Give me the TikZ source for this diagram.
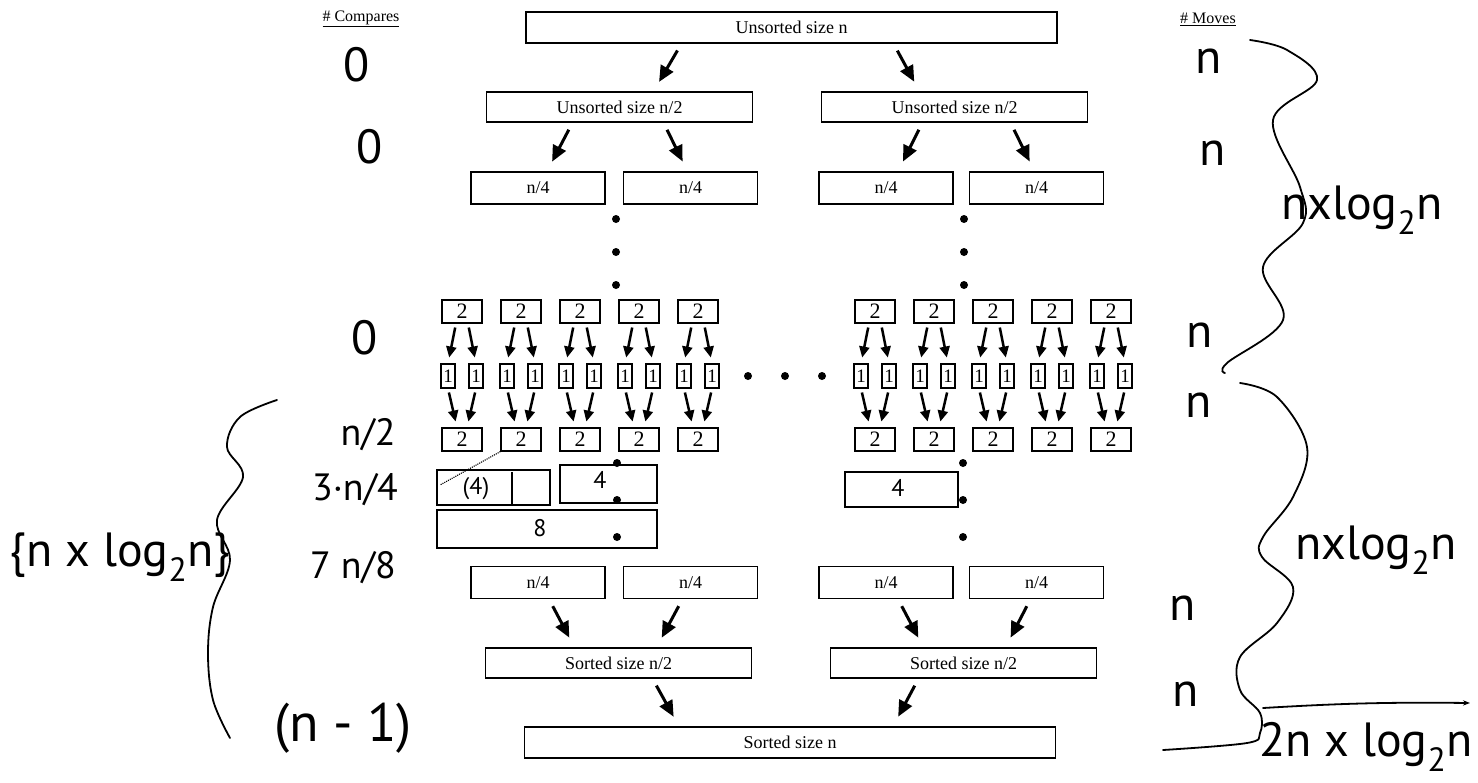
\documentclass[tikz,border=0pt]{standalone}
\usepackage{fontspec}
\setmainfont{Liberation Serif}
\newfontfamily\handfont{PT Sans}
\usetikzlibrary{positioning,calc,arrows.meta}

\begin{document}
\begin{tikzpicture}[x=1pt,y=-1pt]
        \tikzstyle{box}=[draw, line width=1.2pt, inner sep=0pt, font=\fontsize{18}{18}\selectfont]
        \tikzstyle{wbox}=[box, minimum width=531pt, minimum height=31pt]
        \tikzstyle{hfbox}=[box, minimum width=266pt, minimum height=30pt]
        \tikzstyle{qbox}=[box, minimum width=134pt, minimum height=32pt]
        \tikzstyle{twobox}=[box, minimum width=40pt, minimum height=23pt, font=\fontsize{22}{22}\selectfont]
        \tikzstyle{onebox}=[box, minimum width=14pt, minimum height=24pt, font=\fontsize{19}{19}\selectfont]
        \tikzstyle{arr}=[-{Triangle[length=16pt,width=14pt]}, line width=3pt, shorten <=8pt, shorten >=11pt]
        \tikzstyle{sarr}=[-{Triangle[length=11pt,width=10pt]}, line width=2.5pt, shorten <=4pt, shorten >=6pt]
        \tikzstyle{bullet}=[circle, fill, inner sep=0pt, minimum size=8pt]
        \tikzstyle{head}=[font=\fontsize{16}{16}\selectfont]
        \tikzstyle{hand}=[font=\handfont\fontsize{48}{48}\selectfont, inner sep=0pt]
        \tikzstyle{handsm}=[font=\handfont\fontsize{38}{38}\selectfont, inner sep=0pt]
        \tikzstyle{handxs}=[font=\handfont\fontsize{24}{24}\selectfont, inner sep=0pt]
        \tikzstyle{curly}=[line width=1.8pt, line cap=round, line join=round]
        \tikzstyle{sketch}=[line width=1.1pt]

        \useasboundingbox (0,0) rectangle (1478,782);

        % column heads
        \node[head] (cmp) at (361,19) {\underline{\# Compares}};
        \node[head] (mov) at (1208,19) {\underline{\# Moves}};

        % splitting half
        \node[wbox]  (top) at (791.5,27.5) {Unsorted size n};
        \node[hfbox] (ul) at (619.5,107) {Unsorted size n/2};
        \node[hfbox] (ur) at (954.5,107) {Unsorted size n/2};
        \node[qbox]  (q1) at (538,188) {n/4};
        \node[qbox]  (q2) at (690.5,188) {n/4};
        \node[qbox]  (q3) at (886,188) {n/4};
        \node[qbox]  (q4) at (1036.5,188) {n/4};

        \draw[arr] ([xshift=-110pt]top.south) -- ([xshift=34pt]ul.north);
        \draw[arr] ([xshift=102pt]top.south) -- ([xshift=-35pt]ur.north);
        \draw[arr] ([xshift=-47pt]ul.south) -- ([xshift=9pt]q1.north);
        \draw[arr] ([xshift=44pt]ul.south) -- ([xshift=-3pt]q2.north);
        \draw[arr] ([xshift=-32pt]ur.south) -- ([xshift=12pt]q3.north);
        \draw[arr] ([xshift=56pt]ur.south) -- ([xshift=-2pt]q4.north);

        % pairs of size 2 and 1
        \foreach \i/\c in {1/462,2/521,3/580,4/639,5/698,6/875,7/934,8/993,9/1052,10/1111} {
            \node[twobox] (a\i) at (\c,311.5) {2};
            \node[onebox] (l\i) at (\c-14,376) {1};
            \node[onebox] (r\i) at (\c+14,376) {1};
            \node[twobox] (b\i) at (\c,439.5) {2};
            \draw[sarr] ([xshift=-6pt]a\i.south) -- (l\i.north);
            \draw[sarr] ([xshift=6pt]a\i.south) -- (r\i.north);
            \draw[sarr] (l\i.south) -- ([xshift=-5pt]b\i.north);
            \draw[sarr] (r\i.south) -- ([xshift=5pt]b\i.north);
        }

        \node[bullet] (m1) at (748,376) {};
        \node[bullet] (m2) at (785,376) {};
        \node[bullet] (m3) at (822,376) {};

        \node[bullet] (dl1) at (616,219) {};
        \node[bullet] (dl2) at (616,252) {};
        \node[bullet] (dl3) at (616,285) {};
        \node[bullet] (dr1) at (964,219) {};
        \node[bullet] (dr2) at (964,252) {};
        \node[bullet] (dr3) at (964,285) {};
        \node[bullet] (dl4) at (617,463) {};
        \node[bullet] (dl5) at (617,500) {};
        \node[bullet] (dl6) at (617,537) {};
        \node[bullet] (dr4) at (963,463) {};
        \node[bullet] (dr5) at (963,500) {};
        \node[bullet] (dr6) at (963,537) {};

        % merging half
        \node[qbox]  (p1) at (538,582.5) {n/4};
        \node[qbox]  (p2) at (690.5,582.5) {n/4};
        \node[qbox]  (p3) at (886,582.5) {n/4};
        \node[qbox]  (p4) at (1036.5,582.5) {n/4};
        \node[hfbox] (sl) at (618.5,663) {Sorted size n/2};
        \node[hfbox] (sr) at (963.5,663) {Sorted size n/2};
        \node[wbox]  (bot) at (790,742.5) {Sorted size n};

        \draw[arr] ([xshift=11pt]p1.south) -- ([xshift=-44pt]sl.north);
        \draw[arr] ([xshift=-8pt]p2.south) -- ([xshift=38pt]sl.north);
        \draw[arr] ([xshift=12pt]p3.south) -- ([xshift=-40pt]sr.north);
        \draw[arr] ([xshift=-6pt]p4.south) -- ([xshift=42pt]sr.north);
        \draw[arr] ([xshift=34pt]sl.south) -- ([xshift=-111pt]bot.north);
        \draw[arr] ([xshift=-45pt]sr.south) -- ([xshift=103pt]bot.north);

        % hand notes, compares
        \node[hand] (c1) at (357,65) {0};
        \node[hand] (c2) at (370,147) {0};
        \node[hand] (c3) at (365,338) {0};
        \node[handsm] (c4) at (368,435) {n/2};
        \node[handsm] (c5) at (355,490) {3·n/4};
        \node[handsm] (c6) at (353,568) {7 n/8};
        \node[hand, font=\handfont\fontsize{54}{54}\selectfont] (c7) at (343,728) {(n - 1)};
        \node[hand] (csum) at (120,557) {\{n x log\textsubscript{2}n\}};
        \draw[curly] plot[smooth, tension=0.6] coordinates {(277,400) (240,417) (227,447) (243,477) (217,520) (230,560) (213,607) (208,653) (213,700) (230,738)};

        % hand notes, moves
        \node[hand] (v1) at (1209,61) {n};
        \node[hand] (v2) at (1213,153) {n};
        \node[hand] (v3) at (1200,335) {n};
        \node[hand] (v4) at (1199,405) {n};
        \node[hand] (v5) at (1183,608) {n};
        \node[hand] (v6) at (1186,694) {n};
        \node[hand] (vs1) at (1362,210) {nxlog\textsubscript{2}n};
        \node[hand] (vs2) at (1376,550) {nxlog\textsubscript{2}n};
        \node[hand] (vsum) at (1366,747) {2n x log\textsubscript{2}n};
        \draw[curly] plot[smooth, tension=0.6] coordinates {(1250,40) (1287,50) (1317,80) (1273,120) (1300,187) (1303,223) (1263,267) (1283,320) (1227,363) (1225,373)};
        \draw[curly] plot[smooth, tension=0.6] coordinates {(1240,383) (1277,397) (1307,447) (1293,497) (1263,537) (1262,557) (1293,587) (1277,623) (1240,657) (1240,690) (1260,713) (1260,733) (1247,743) (1163,750)};
        \draw[curly, -{Stealth[length=7pt]}] (1263,708) to[bend left=2] (1470,703);

        % sketched boxes
        \draw[sketch] (437,470) rectangle (550,505);
        \draw[sketch] (512,472) -- (512,505);
        \node[handxs] (s1) at (476,489) {(4)};
        \draw[sketch] (560,465) rectangle (657,503);
        \node[handxs] (s2) at (600,480) {4};
        \draw[sketch] (437,510) rectangle (657,548);
        \node[handxs] (s3) at (540,528) {8};
        \draw[sketch, densely dotted] (b2.south west) -- (440,485);
        \draw[sketch] (845,472) rectangle (958,507);
        \node[handxs] (s4) at (898,488) {4};
\end{tikzpicture}
\end{document}
